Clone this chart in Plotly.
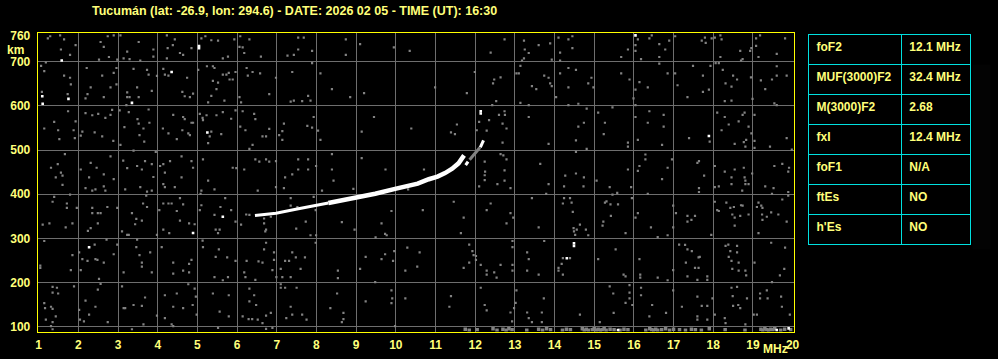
import plotly.graph_objects as go

# ---------------- data ----------------
title_text = "Tucumán (lat: -26.9, lon: 294.6) - DATE: 2026 02 05 - TIME (UT): 16:30"

x_ticks = list(range(1, 21))
y_ticks = [100, 200, 300, 400, 500, 600, 700]
y_top_tick = 760

# ordinary (O) trace: frequency MHz, virtual height km (low part thinner, upper part thicker)
o_low_mhz = [6.45, 6.98, 7.48, 7.98, 8.3]
o_low_km = [352, 357, 366, 374, 380]
o_mhz = [8.3, 8.48, 8.98, 9.48, 9.98, 10.31, 10.55, 10.83, 11.05, 11.24, 11.42, 11.58, 11.66, 11.72]
o_km = [380, 383, 391, 401, 412, 418, 424, 434, 440, 448, 458, 470, 479, 488]

# extraordinary (X) trace
x_mhz = [11.76, 11.82]
x_km = [466, 474]
x_grey_mhz = [11.86, 11.95, 12.05, 12.12]
x_grey_km = [478, 488, 498, 506]
x_top_mhz = [12.13, 12.17, 12.21]
x_top_km = [506, 514, 522]

# scattered noise echoes (MHz, km)
noise_top = [
    (1.23, 753), (1.29, 758), (1.54, 760), (1.64, 751), (1.93, 738), (1.56, 728), (1.79, 716), (1.18, 699),
    (2.56, 745), (2.64, 734), (2.74, 758), (2.52, 705), (2.77, 711), (2.89, 760), (3.06, 760), (2.98, 705),
    (3.23, 723), (3.14, 708), (3.29, 706), (3.52, 745), (3.56, 703), (3.89, 728), (3.89, 712), (4.23, 760),
    (4.25, 731), (4.43, 751), (4.38, 738), (4.56, 720), (4.64, 716), (4.23, 708), (4.85, 731), (5.10, 753),
    (5.20, 758), (5.35, 749), (5.52, 748), (5.64, 708), (5.77, 712), (5.93, 751), (6.08, 758), (6.06, 734),
    (6.14, 733), (6.18, 720), (6.31, 751), (6.60, 712), (7.27, 714), (7.43, 716),
    (1.06, 691), (1.14, 679), (1.08, 632), (1.64, 669), (1.79, 664), (1.81, 649), (1.73, 627), (2.21, 686),
    (2.31, 642), (2.23, 627), (2.18, 617), (2.60, 669), (2.64, 620), (2.81, 642), (2.96, 649), (2.96, 686),
    (2.89, 675), (3.23, 631), (3.23, 620), (3.29, 620), (3.21, 602), (3.48, 642), (3.52, 620), (3.39, 684),
    (3.73, 682), (3.77, 671), (3.85, 634), (3.98, 668), (4.14, 684), (4.18, 671), (4.27, 669), (4.62, 632),
    (4.74, 664), (4.68, 622), (4.81, 620), (4.89, 628), (5.02, 682), (5.24, 690), (5.39, 690), (5.43, 686),
    (5.39, 657), (5.52, 653), (5.48, 638), (5.35, 623), (5.27, 608), (5.64, 671), (5.73, 671), (5.79, 675),
    (5.81, 660), (5.89, 660), (5.96, 677), (5.68, 612), (6.06, 620), (6.10, 608), (6.24, 686), (6.27, 669),
    (6.39, 677), (6.58, 674), (6.81, 627), (6.98, 664), (7.35, 610), (7.43, 612), (7.39, 677),
    (1.14, 549), (1.39, 564), (1.49, 545), (1.52, 525), (1.74, 588), (1.93, 565), (1.88, 545), (1.91, 527),
    (2.06, 533), (2.10, 542), (2.18, 584), (2.35, 579), (2.41, 540), (2.50, 582), (2.60, 531), (2.68, 573),
    (2.81, 580), (2.85, 591), (2.88, 521), (3.04, 590), (3.06, 512), (3.16, 552), (3.27, 586), (3.49, 570),
    (3.52, 560), (3.54, 534), (3.64, 549), (3.66, 519), (3.77, 592), (3.79, 562), (4.13, 549), (4.27, 538),
    (4.39, 580), (4.48, 525), (4.64, 575), (4.68, 570), (4.62, 545), (4.77, 538), (4.81, 534), (4.85, 562),
    (4.89, 562), (5.06, 582), (5.13, 573), (5.14, 568), (5.23, 579), (5.31, 531), (5.35, 542), (5.48, 579),
    (5.60, 536), (5.64, 586), (5.27, 516), (5.85, 571), (5.96, 590), (6.08, 553), (6.14, 588), (6.21, 545),
    (6.43, 582), (6.46, 570), (6.64, 531), (6.73, 531), (6.81, 548), (7.18, 560), (7.14, 543), (7.14, 523),
    (7.06, 534), (6.39, 512), (6.31, 503),
    (1.31, 460), (1.48, 468), (1.56, 449), (1.60, 442), (1.43, 438), (1.66, 491), (2.06, 456), (2.27, 438),
    (2.31, 471), (2.46, 460), (2.64, 445), (2.81, 486), (2.89, 434), (3.13, 476), (3.23, 459), (3.39, 499),
    (3.48, 464), (3.60, 456), (3.68, 475), (3.85, 468), (3.89, 439), (3.95, 496), (4.06, 464), (4.14, 468),
    (4.18, 449), (4.31, 475), (4.60, 486), (4.60, 438), (4.85, 475), (4.89, 460), (5.14, 479), (5.27, 431),
    (5.89, 460), (5.98, 459), (6.18, 456), (6.46, 479), (6.56, 474), (6.73, 479), (6.81, 474), (6.98, 475),
    (7.21, 438), (7.39, 445),
    (7.54, 755), (7.68, 755), (7.54, 728), (7.89, 725), (8.74, 751), (8.74, 716), (9.10, 740), (9.95, 733),
    (10.35, 725), (12.39, 721), (12.74, 751), (13.23, 748), (13.25, 728), (13.35, 720), (13.60, 738),
    (13.89, 742), (13.23, 708), (13.18, 703), (13.93, 705),
    (7.89, 697), (8.10, 674), (8.39, 638), (7.79, 623), (7.85, 612), (7.64, 611), (8.85, 620), (9.20, 629),
    (10.99, 642), (11.79, 629), (11.99, 677), (12.48, 660), (12.45, 651), (12.64, 665), (12.53, 611),
    (12.43, 602), (13.14, 691), (13.10, 674), (13.04, 674), (13.74, 669), (13.85, 664), (13.89, 651),
    (13.93, 645), (13.43, 645), (13.54, 638), (13.14, 607), (13.35, 602),
    (7.93, 575), (7.77, 555), (7.89, 551), (8.04, 544), (8.10, 523), (9.14, 542), (9.45, 575), (10.39, 549),
    (11.54, 558), (11.39, 540), (11.49, 536), (12.04, 545), (12.10, 564), (12.35, 568), (12.29, 544),
    (12.60, 580), (12.74, 588), (12.75, 580), (12.69, 560), (12.79, 549), (12.69, 517), (13.35, 575),
    (13.85, 514),
    (7.54, 479), (7.79, 479), (7.99, 464), (7.54, 456), (7.79, 456), (8.39, 491), (8.39, 456), (9.14, 482),
    (9.74, 456), (10.71, 456), (8.43, 431), (12.24, 474), (12.25, 451), (12.24, 443), (12.24, 432),
    (12.64, 491), (12.71, 488), (12.79, 479), (12.74, 454), (13.64, 469), (12.74, 431),
    (14.10, 755), (14.35, 751), (14.45, 758), (14.45, 731), (14.14, 721), (14.14, 703), (15.68, 711),
    (15.85, 728), (16.10, 751), (16.04, 738), (16.04, 725), (16.18, 706), (16.39, 753), (16.45, 760),
    (16.64, 740), (16.64, 711), (16.79, 728), (16.89, 748), (17.04, 758), (17.71, 748), (17.79, 755),
    (17.81, 743), (17.96, 753), (18.04, 755), (18.18, 760), (18.21, 751), (18.18, 711), (18.06, 697),
    (18.14, 697), (18.68, 725), (18.74, 706), (18.70, 703), (18.93, 725), (18.96, 731), (19.08, 753),
    (19.08, 736), (19.14, 711), (19.18, 760), (19.60, 718), (19.81, 753),
    (14.35, 686), (14.54, 682), (14.14, 674), (14.93, 664), (14.85, 651), (14.98, 642), (14.35, 642),
    (14.04, 620), (14.35, 602), (14.60, 605), (15.68, 674), (15.89, 660), (16.14, 654), (16.35, 642),
    (16.04, 637), (15.99, 617), (16.04, 602), (16.64, 696), (16.85, 674), (17.04, 674), (17.10, 647),
    (17.35, 620), (17.49, 691), (17.74, 669), (17.74, 632), (17.89, 637), (17.93, 691), (18.24, 682),
    (18.31, 651), (18.46, 644), (18.50, 669), (18.60, 660), (18.29, 611), (18.46, 612), (18.95, 665),
    (18.99, 616), (19.20, 658), (19.31, 638), (19.48, 660), (19.60, 690), (19.60, 669), (19.85, 669),
    (19.54, 606), (19.60, 602),
    (14.81, 594), (15.10, 585), (14.60, 553), (14.74, 562), (14.54, 522), (15.27, 562), (15.24, 536),
    (15.46, 597), (15.85, 517), (15.85, 508), (16.04, 575), (16.10, 523), (16.39, 588), (16.35, 562),
    (16.75, 580), (16.75, 553), (16.71, 512), (17.39, 527), (17.91, 519), (18.10, 585), (18.29, 575),
    (18.21, 545), (18.39, 558), (18.54, 514), (18.64, 565), (18.74, 580), (18.79, 585), (18.89, 553),
    (18.83, 523), (18.77, 518), (18.81, 508), (18.96, 538), (19.04, 580), (19.04, 521), (19.04, 505),
    (19.43, 508), (19.85, 527), (19.98, 501),
    (14.54, 496), (14.81, 503), (14.27, 442), (14.54, 447), (14.74, 438), (15.06, 431), (15.85, 456),
    (16.14, 464), (16.10, 453), (16.29, 490), (16.29, 479), (16.85, 460), (16.96, 479), (16.71, 434),
    (17.64, 475), (17.60, 471), (17.77, 442), (18.04, 464), (18.29, 451), (18.46, 438), (18.54, 456),
    (18.77, 460), (18.79, 438), (18.81, 431), (18.98, 447), (19.54, 464), (19.74, 469), (19.91, 460),
    (19.89, 451),
]

noise_bottom = [
    (1.60, 421), (2.18, 414), (2.35, 408), (2.43, 411), (2.64, 418), (2.68, 408), (3.18, 411), (3.56, 416),
    (3.73, 406), (3.85, 408), (4.14, 423), (4.18, 416), (4.43, 416), (5.10, 408), (5.43, 411), (6.52, 408),
    (6.98, 416), (7.18, 414), (8.14, 408), (8.93, 412),
    (1.39, 394), (1.35, 383), (1.79, 399), (1.71, 379), (1.71, 369), (1.96, 369), (1.10, 331), (1.27, 334),
    (1.68, 325), (1.85, 334), (2.24, 317), (2.31, 323), (2.35, 369), (2.35, 357), (2.49, 357), (2.56, 357),
    (2.49, 334), (2.73, 371), (2.71, 297), (2.98, 369), (3.10, 316), (3.23, 308), (3.27, 308), (3.35, 357),
    (3.46, 344), (3.43, 332), (3.60, 340), (3.63, 379), (3.73, 371), (3.71, 397), (3.48, 297), (4.14, 379),
    (4.27, 379), (4.35, 379), (4.04, 364), (4.14, 320), (4.29, 312), (3.98, 308), (4.48, 362), (4.56, 391),
    (4.64, 377), (4.56, 340), (4.79, 334), (4.93, 332), (5.06, 364), (5.10, 375), (5.08, 401), (5.46, 320),
    (5.52, 312), (5.56, 320), (5.43, 353), (5.58, 371), (5.70, 391), (5.85, 364), (5.96, 338), (6.10, 331),
    (6.23, 354), (6.31, 353), (6.68, 345), (6.68, 334), (6.73, 320), (6.71, 316), (6.85, 349), (7.35, 391),
    (7.35, 374), (7.52, 371), (7.73, 338), (7.49, 322), (7.85, 307), (7.99, 307), (7.93, 394), (7.98, 364),
    (8.64, 337), (8.96, 320), (9.49, 302), (9.64, 334), (9.73, 310), (9.77, 307), (9.89, 362), (10.31, 411),
    (1.14, 294), (1.04, 238), (1.04, 233), (1.85, 262), (1.81, 228), (2.02, 268), (2.06, 228), (2.10, 253),
    (2.23, 249), (2.41, 286), (2.43, 253), (2.48, 251), (2.52, 208), (2.64, 245), (2.89, 264), (2.98, 286),
    (3.14, 223), (3.46, 280), (3.54, 262), (3.60, 245), (3.60, 236), (3.81, 268), (3.85, 223), (4.10, 280),
    (4.39, 245), (4.39, 220), (4.64, 227), (4.79, 242), (4.85, 251), (4.79, 223), (5.13, 295), (5.14, 280),
    (5.46, 258), (5.54, 275), (5.43, 212), (5.64, 205), (5.75, 257), (5.77, 212), (5.96, 249), (6.18, 223),
    (6.21, 212), (6.24, 249), (6.46, 206), (6.54, 248), (6.64, 245), (6.73, 290), (6.68, 275), (6.93, 268),
    (6.93, 251), (6.89, 228), (6.99, 212), (7.14, 212), (7.10, 231), (7.21, 249), (7.31, 249), (7.35, 212),
    (7.39, 268), (7.48, 257), (7.60, 231), (7.71, 257), (7.98, 290), (8.54, 227), (8.54, 210), (9.10, 231),
    (9.24, 258), (9.64, 253), (9.73, 264), (9.93, 249), (9.96, 271), (10.24, 227), (10.29, 279),
    (1.35, 190), (1.35, 177), (1.46, 188), (1.49, 175), (1.14, 153), (1.16, 142), (1.31, 145), (1.35, 140),
    (1.43, 123), (1.18, 116), (1.35, 110), (1.89, 191), (2.02, 138), (2.04, 116), (2.14, 112), (2.27, 127),
    (2.18, 159), (2.43, 145), (2.49, 184), (2.56, 197), (2.74, 110), (3.10, 191), (3.14, 142), (3.18, 142),
    (3.39, 149), (3.60, 147), (3.68, 166), (3.98, 125), (4.18, 171), (4.18, 119), (4.35, 105), (4.39, 145),
    (4.48, 175), (4.64, 142), (4.77, 196), (4.93, 186), (4.96, 168), (4.88, 149), (4.98, 127), (5.39, 175),
    (5.56, 134), (5.79, 171), (5.79, 123), (6.14, 123), (6.31, 186), (6.31, 157), (6.43, 171), (6.48, 149),
    (6.29, 117), (6.38, 117), (6.52, 116), (6.64, 108), (6.73, 125), (6.85, 131), (7.10, 196), (7.10, 188),
    (7.21, 188), (7.24, 119), (7.39, 127), (7.35, 145), (7.50, 188), (7.64, 127), (7.75, 116), (8.35, 142),
    (8.52, 175), (8.68, 131), (8.68, 117), (8.64, 110), (9.24, 157), (9.48, 201), (9.89, 182), (9.91, 164),
    (9.89, 153), (10.24, 164),
    (1.31, 101), (1.35, 94), (3.35, 94), (3.64, 105), (4.39, 101), (5.52, 97), (6.73, 95), (6.89, 97),
    (9.98, 101),
    (12.10, 418), (12.56, 423), (12.89, 414), (13.85, 423), (14.24, 418), (14.73, 418), (15.39, 416),
    (15.93, 416), (15.58, 403), (15.46, 399), (16.35, 401), (17.64, 414), (17.64, 405), (18.04, 416),
    (18.14, 418), (18.46, 423), (18.73, 408), (18.81, 423), (18.89, 423), (19.31, 418), (19.48, 401),
    (19.52, 414), (19.89, 405),
    (10.68, 364), (11.46, 383), (11.71, 347), (11.64, 312), (12.29, 364), (12.39, 379), (12.79, 334),
    (12.89, 357), (12.96, 347), (13.43, 391), (13.60, 325), (13.79, 401), (14.24, 391), (14.39, 391),
    (14.43, 381), (14.21, 379), (14.46, 360), (14.48, 323), (14.49, 316), (14.52, 308), (14.64, 331),
    (14.56, 320), (14.79, 320), (14.85, 307), (15.23, 338), (15.21, 329), (15.27, 381), (15.31, 384),
    (15.41, 377), (15.60, 377), (15.42, 351), (15.79, 312), (15.95, 391), (16.04, 347), (16.10, 357),
    (16.43, 325), (16.60, 303), (16.85, 307), (16.99, 374), (17.06, 357), (16.99, 325), (17.35, 351),
    (17.35, 338), (17.45, 342), (17.54, 351), (17.95, 308), (18.04, 383), (18.10, 364), (18.14, 362),
    (18.33, 381), (18.43, 369), (18.52, 371), (18.48, 354), (18.54, 347), (18.54, 329), (18.70, 375),
    (18.74, 374), (18.89, 354), (18.68, 351), (19.10, 371), (19.14, 381), (19.21, 374), (19.24, 369),
    (19.23, 354), (19.35, 349), (19.24, 342), (19.46, 359), (19.64, 354), (19.74, 388), (19.85, 338),
    (19.14, 312), (19.89, 397),
    (10.60, 268), (10.54, 236), (11.85, 286), (11.93, 271), (11.96, 262), (12.02, 260), (12.02, 251),
    (11.85, 245), (11.71, 233), (12.14, 240), (12.29, 227), (12.29, 218), (12.48, 223), (12.54, 211),
    (12.64, 240), (12.94, 294), (12.94, 280), (12.94, 240), (12.94, 227), (13.31, 268), (13.35, 253),
    (13.31, 227), (13.60, 218), (13.74, 294), (14.21, 255), (14.39, 255), (14.18, 242), (14.10, 233),
    (14.10, 227), (14.21, 218), (15.10, 253), (15.54, 275), (15.74, 218), (15.79, 214), (16.14, 253),
    (16.16, 218), (16.16, 211), (16.60, 211), (16.85, 205), (16.99, 228), (17.14, 286), (17.29, 285),
    (17.35, 275), (17.46, 271), (17.63, 257), (17.66, 258), (17.31, 245), (17.54, 233), (17.63, 233),
    (17.35, 214), (17.60, 206), (17.85, 214), (17.85, 206), (18.31, 283), (18.38, 286), (18.43, 271),
    (18.60, 283), (18.39, 258), (18.46, 249), (18.60, 268), (18.64, 245), (18.48, 231), (18.64, 227),
    (18.81, 227), (18.83, 216), (19.04, 245), (19.46, 290), (19.81, 279), (19.79, 231), (19.68, 216),
    (12.14, 188), (11.39, 169), (11.35, 145), (12.24, 149), (12.29, 137), (12.98, 142), (13.02, 154),
    (12.89, 132), (12.93, 112), (13.04, 182), (13.31, 132), (13.35, 119), (13.43, 110), (13.73, 164),
    (13.68, 132), (13.68, 110), (14.64, 127), (15.14, 110), (15.39, 191), (15.48, 175), (15.49, 131),
    (15.79, 154), (15.89, 194), (15.89, 177), (15.89, 164), (15.96, 149), (16.18, 188), (16.18, 171),
    (16.46, 149), (16.39, 123), (16.81, 131), (16.99, 182), (17.21, 145), (17.60, 168), (17.60, 123),
    (17.60, 116), (17.71, 147), (17.85, 147), (17.85, 116), (17.98, 164), (18.04, 127), (18.29, 119),
    (18.31, 108), (18.46, 188), (18.60, 190), (18.49, 169), (18.50, 147), (18.63, 149), (18.68, 142),
    (18.85, 164), (18.81, 105), (19.02, 127), (19.10, 127), (19.18, 175), (19.18, 164), (19.35, 182),
    (19.37, 164), (19.71, 168), (19.73, 145), (19.93, 127), (19.48, 201),
]

# dense low-height band of interference (MHz) near 90-97 km
band_mhz = [11.75, 11.85, 12.05, 12.45, 12.55, 12.70, 12.78, 12.85, 12.93, 13.30, 13.60, 13.70, 13.80, 13.90,
            14.20, 14.30, 14.40, 14.70, 14.75, 14.80, 14.85, 14.95, 15.00, 15.05, 15.10, 15.15, 15.20, 15.25,
            15.30, 15.40, 15.50, 15.65, 15.75, 15.85, 16.30, 16.40, 16.45, 16.50, 16.55, 16.60, 16.70, 16.80,
            16.90, 17.00, 17.15, 17.30, 17.45, 17.55, 17.70, 17.90, 18.30, 18.80, 19.20, 19.25, 19.30, 19.35,
            19.40, 19.45, 19.50, 19.55, 19.70, 19.80, 19.95]
band_km = [94, 92, 93, 95, 92, 94, 92, 95, 93, 92, 94, 92, 95, 93,
           92, 94, 93, 95, 92, 94, 92, 93, 95, 92, 94, 92, 93, 95,
           92, 94, 93, 92, 94, 93, 92, 95, 93, 92, 94, 92, 93, 95,
           92, 94, 93, 92, 94, 93, 92, 95, 93, 92, 94, 92, 95, 93,
           92, 94, 93, 95, 92, 94, 93]

# strong isolated echoes (white)
white_pts = [(1.58, 703), (5.04, 736), (5.04, 731), (1.09, 622), (1.10, 605), (1.75, 616), (3.35, 607),
             (4.35, 677), (5.25, 540), (12.14, 588), (12.14, 583), (16.04, 760), (17.89, 532), (4.89, 312),
             (5.64, 349), (2.27, 280), (14.31, 255), (14.49, 283), (14.49, 289), (15.60, 92), (19.60, 92),
             (19.90, 96)]

# parameter table
param_names = ["foF2", "MUF(3000)F2", "M(3000)F2", "fxI", "foF1", "ftEs", "h'Es"]
param_values = ["12.1 MHz", "32.4 MHz", "2.68", "12.4 MHz", "N/A", "NO", "NO"]

# ---------------- styling ----------------
W, H = 998, 359
YELLOW = "#FFFF00"
TXT = "#FFFF7A"
GRID = "#6E6E6E"
NOISE = "#828282"
CYAN = "#00E0E0"
FONT = dict(family="Liberation Sans, Arial, sans-serif", size=12, color=TXT, weight="bold")

x_rng = [0.975, 20.025]
y_rng = [88.9, 764.4]

fig = go.Figure()

def split(pts):
    return [p[0] for p in pts], [p[1] for p in pts]

for pts in (noise_top, noise_bottom):
    fx, fy = split(pts)
    fig.add_trace(go.Scatter(x=fx, y=fy, mode="markers", hoverinfo="skip",
                             marker=dict(symbol="square", size=2.2, color=NOISE, line=dict(width=0))))

fig.add_trace(go.Scatter(x=band_mhz, y=band_km, mode="markers", hoverinfo="skip",
                         marker=dict(symbol="square", size=3.5, color=NOISE, line=dict(width=0))))

fig.add_trace(go.Scatter(x=x_grey_mhz, y=x_grey_km, mode="lines", hoverinfo="skip",
                         line=dict(color=NOISE, width=3)))
fig.add_trace(go.Scatter(x=o_low_mhz, y=o_low_km, mode="lines", hoverinfo="skip",
                         line=dict(color="white", width=3)))
fig.add_trace(go.Scatter(x=o_mhz, y=o_km, mode="lines", hoverinfo="skip",
                         line=dict(color="white", width=4.5)))
fig.add_trace(go.Scatter(x=x_mhz, y=x_km, mode="lines", hoverinfo="skip",
                         line=dict(color="white", width=3)))
fig.add_trace(go.Scatter(x=x_top_mhz, y=x_top_km, mode="lines", hoverinfo="skip",
                         line=dict(color="white", width=3)))

wx, wy = split(white_pts)
fig.add_trace(go.Scatter(x=wx, y=wy, mode="markers", hoverinfo="skip",
                         marker=dict(symbol="square", size=2.6, color="white", line=dict(width=0))))

# helper trace so the secondary y axis (top label) is drawn
fig.add_trace(go.Scatter(x=[x_rng[0]], y=[y_top_tick], yaxis="y2", mode="markers",
                         marker=dict(opacity=0), hoverinfo="skip"))

NBSP = "\u00a0"
names_nb = [s.replace(" ", NBSP) for s in param_names]
values_nb = [s.replace(" ", NBSP) for s in param_values]

fig.add_trace(go.Table(
    domain=dict(x=[813 / W, 977 / W], y=[1 - 250 / H, 1 - 30 / H]),
    columnwidth=[94, 70],
    header=dict(values=[names_nb[0], values_nb[0]], align="left", height=30,
                fill_color="black", line=dict(color=CYAN, width=1), font=FONT),
    cells=dict(values=[names_nb[1:], values_nb[1:]], align="left", height=30,
               fill_color="black", line=dict(color=CYAN, width=1), font=FONT),
))

fig.update_layout(
    width=W, height=H,
    margin=dict(l=0, r=0, t=0, b=0),
    paper_bgcolor="black", plot_bgcolor="black",
    showlegend=False,
    xaxis=dict(domain=[36 / W, 798 / W], range=x_rng, tickvals=x_ticks,
               ticktext=[str(v) for v in x_ticks], showgrid=True, gridcolor=GRID, gridwidth=1,
               zeroline=False, showline=True, mirror=True, linecolor=YELLOW, linewidth=1,
               ticks="outside", ticklen=2, tickcolor="black", tickfont=FONT, fixedrange=True),
    yaxis=dict(domain=[26 / H, 330 / H], range=y_rng, tickvals=y_ticks,
               showgrid=True, gridcolor=GRID, gridwidth=1, zeroline=False,
               showline=True, mirror=True, linecolor=YELLOW, linewidth=1,
               ticks="outside", ticklen=4, tickcolor="black", tickfont=FONT, fixedrange=True),
    yaxis2=dict(overlaying="y", side="left", range=y_rng, tickvals=[y_top_tick],
                ticktext=[str(y_top_tick)], showgrid=False, zeroline=False, showline=False,
                ticks="outside", ticklen=4, tickcolor="black", tickfont=FONT, fixedrange=True),
    annotations=[
        dict(text=title_text, xref="paper", yref="paper", x=295 / W, y=1 - 6 / H,
             xanchor="center", yanchor="middle", showarrow=False,
             font=dict(FONT, size=12.5)),
        dict(text="km", xref="paper", yref="paper", x=14 / W, y=1 - 46 / H,
             xanchor="center", yanchor="middle", showarrow=False, font=FONT),
        dict(text="MHz", xref="paper", yref="paper", x=780 / W, y=1 - 351 / H,
             xanchor="center", yanchor="middle", showarrow=False, font=FONT),
    ],
)

fig.write_html("out.html")
